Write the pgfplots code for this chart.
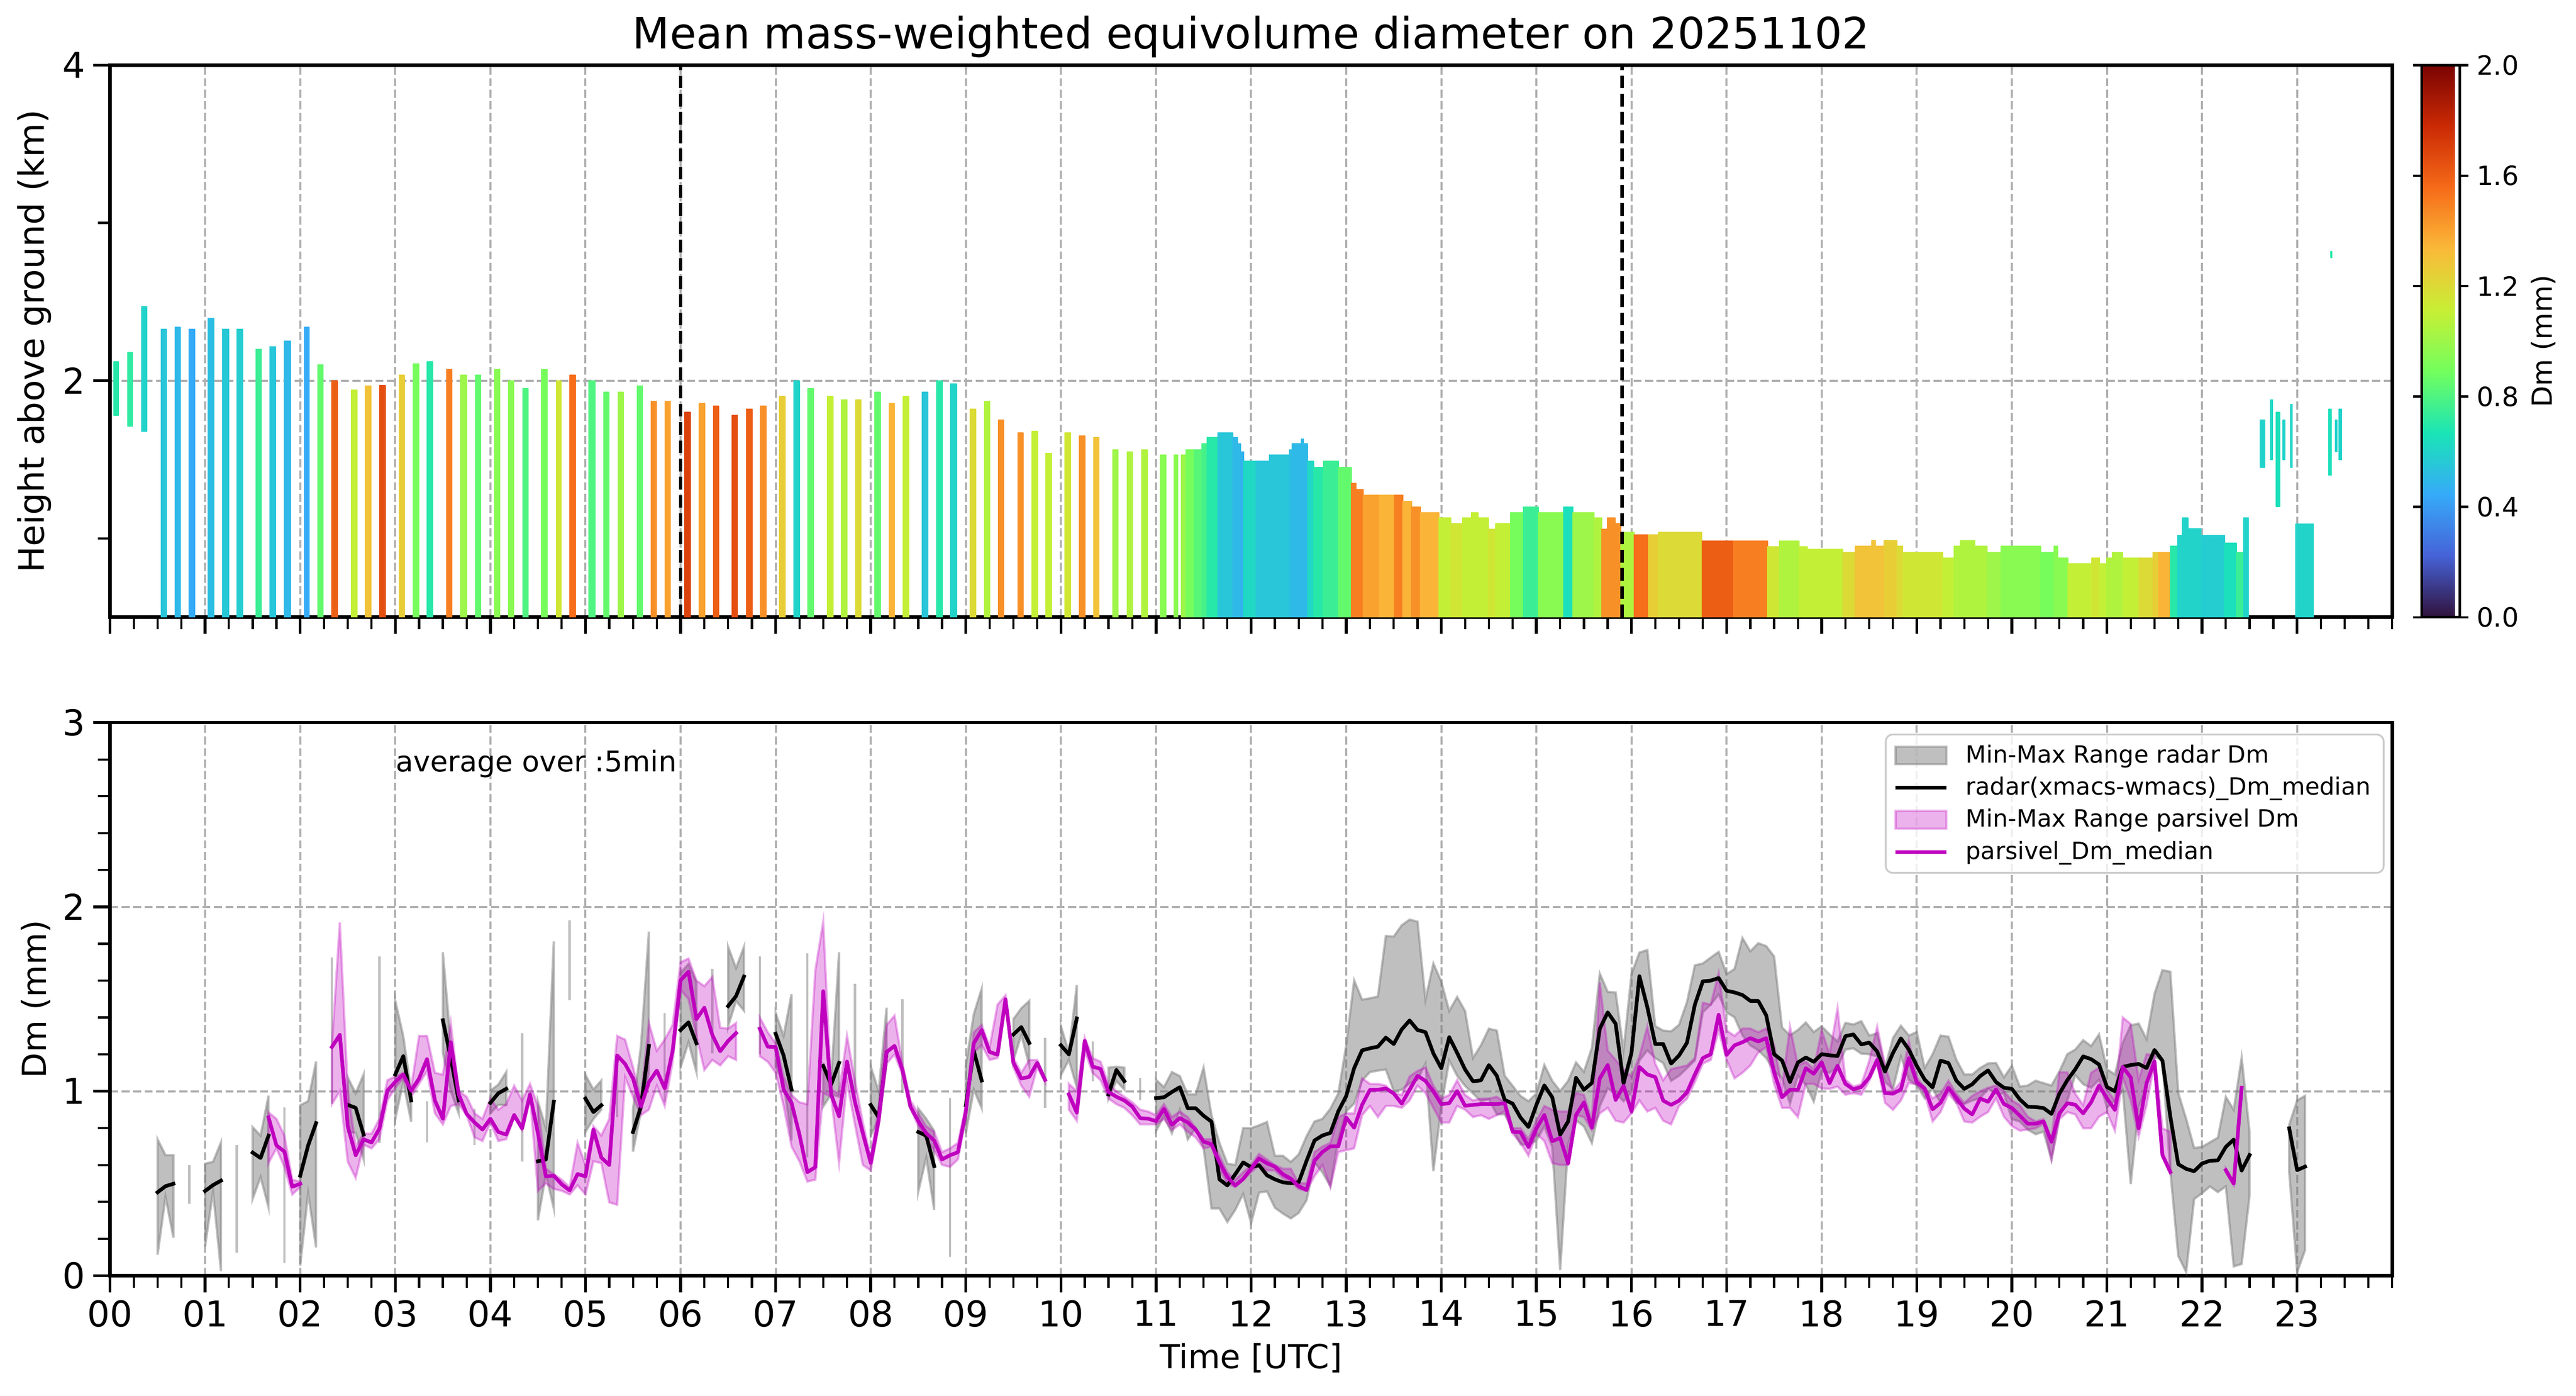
\documentclass[border=0pt]{standalone}
\usepackage{fontspec}
\setmainfont{DejaVu Sans}
\usepackage{pgfplots}
\usepackage{pgfplotstable}
\pgfplotsset{compat=1.18}
\usepgfplotslibrary{patchplots}

\definecolor{mplgray}{HTML}{808080}
\definecolor{mplm}{rgb}{0.75,0,0.75}
\definecolor{gridgray}{HTML}{B0B0B0}
\definecolor{legedge}{HTML}{CCCCCC}

\pgfplotsset{
  colormap={turbo}{rgb255=(48,18,59) rgb255=(70,98,215) rgb255=(54,170,249) rgb255=(26,228,182) rgb255=(114,254,94) rgb255=(199,239,52) rgb255=(250,186,57) rgb255=(246,107,25) rgb255=(203,42,4) rgb255=(122,4,3)},
  mpl/.style={
    scale only axis, width=988.7pt,
    xmin=0, xmax=24,
    xtick={0,1,...,23},
    minor xtick={0,0.25,...,24},
    tick align=outside, tick pos=left,
    major tick length=7.2pt, minor tick length=5.2pt,
    major tick style={line width=1.2pt, black},
    minor tick style={line width=0.95pt, black},
    axis line style={line width=1.5pt},
    grid=major,
    major grid style={gridgray, line width=0.9pt, dash pattern=on 3.5pt off 1.5pt},
    tick label style={font=\fontsize{15.4pt}{18pt}\selectfont},
    /pgf/number format/assume math mode=true,
    unbounded coords=jump,
  }
}

% ---------- top panel: radar curtain (column start, column end, base, top, Dm) ----------
\pgfplotstableread{
xs xe base top c
0.039 0.089 1.78 2.12 0.70
0.185 0.235 1.71 2.18 0.72
0.331 0.386 1.68 2.47 0.60
0.540 0.595 0.5 2.325 0.55
0.687 0.741 0.5 2.34 0.50
0.829 0.891 0.5 2.325 0.45
1.029 1.092 0.5 2.395 0.52
1.184 1.247 0.5 2.325 0.56
1.334 1.393 0.5 2.325 0.58
1.535 1.593 0.5 2.20 0.75
1.681 1.744 0.5 2.216 0.55
1.832 1.898 0.5 2.25 0.50
2.045 2.095 0.5 2.34 0.45
2.183 2.241 0.5 2.10 0.85
2.333 2.392 0.5 2.00 1.60
2.538 2.596 0.5 1.94 1.10
2.684 2.747 0.5 1.965 1.30
2.834 2.897 0.5 1.97 1.65
3.039 3.098 0.5 2.034 1.25
3.186 3.248 0.5 2.107 0.90
3.336 3.394 0.5 2.12 0.70
3.537 3.595 0.5 2.072 1.50
3.687 3.750 0.5 2.034 1.00
3.842 3.896 0.5 2.034 0.85
4.042 4.101 0.5 2.072 0.95
4.188 4.247 0.5 2.00 0.95
4.339 4.398 0.5 1.95 0.80
4.539 4.598 0.5 2.072 0.90
4.694 4.744 0.5 2.00 1.15
4.836 4.894 0.5 2.034 1.55
5.037 5.099 0.5 2.00 0.80
5.191 5.250 0.5 1.927 0.85
5.342 5.400 0.5 1.927 1.00
5.542 5.601 0.5 1.965 0.85
5.689 5.747 0.5 1.87 1.45
5.835 5.894 0.5 1.87 1.40
6.044 6.102 0.5 1.80 1.70
6.194 6.257 0.5 1.854 1.40
6.344 6.403 0.5 1.84 1.60
6.541 6.599 0.5 1.78 1.65
6.691 6.754 0.5 1.82 1.60
6.838 6.900 0.5 1.84 1.45
7.042 7.101 0.5 1.90 1.25
7.189 7.251 0.5 2.00 0.60
7.339 7.398 0.5 1.95 0.85
7.544 7.602 0.5 1.90 1.10
7.690 7.749 0.5 1.88 1.05
7.840 7.899 0.5 1.88 1.20
8.041 8.100 0.5 1.927 0.85
8.191 8.250 0.5 1.854 1.35
8.342 8.400 0.5 1.90 1.10
8.542 8.601 0.5 1.927 0.55
8.693 8.751 0.5 2.00 0.70
8.839 8.902 0.5 1.98 0.60
9.044 9.103 0.5 1.82 1.20
9.195 9.253 0.5 1.87 1.05
9.341 9.399 0.5 1.75 1.45
9.546 9.604 0.5 1.67 1.45
9.696 9.755 0.5 1.68 1.10
9.842 9.901 0.5 1.54 1.10
10.043 10.101 0.5 1.67 1.15
10.193 10.252 0.5 1.65 1.45
10.344 10.402 0.5 1.64 1.30
10.544 10.603 0.5 1.56 1.00
10.695 10.753 0.5 1.55 1.05
10.849 10.907 0.5 1.56 1.05
11.046 11.104 0.5 1.53 0.95
11.192 11.230 0.5 1.53 0.95
11.263 11.317 0.5 1.53 1.00
11.317 11.400 0.5 1.56 0.90
11.400 11.484 0.5 1.56 0.82
11.484 11.534 0.5 1.60 0.78
11.534 11.652 0.5 1.64 0.70
11.652 11.806 0.5 1.67 0.55
11.806 11.856 0.5 1.64 0.50
11.856 11.890 0.5 1.60 0.50
11.890 11.923 0.5 1.55 0.48
11.923 12.050 0.5 1.49 0.62
12.050 12.191 0.5 1.49 0.55
12.191 12.403 0.5 1.53 0.55
12.403 12.428 0.5 1.56 0.52
12.428 12.528 0.5 1.60 0.50
12.528 12.553 0.5 1.63 0.50
12.553 12.595 0.5 1.60 0.50
12.595 12.658 0.5 1.49 0.62
12.658 12.762 0.5 1.45 0.70
12.762 12.917 0.5 1.49 0.75
12.917 13.055 0.5 1.45 0.85
13.055 13.105 0.5 1.35 1.50
13.105 13.180 0.5 1.31 1.50
13.180 13.350 0.5 1.275 1.40
13.350 13.510 0.5 1.275 1.35
13.510 13.598 0.5 1.275 1.50
13.598 13.690 0.5 1.235 1.35
13.690 13.782 0.5 1.20 1.45
13.782 13.974 0.5 1.164 1.35
13.974 14.100 0.5 1.13 1.10
14.100 14.225 0.5 1.094 1.15
14.225 14.317 0.5 1.13 1.10
14.317 14.388 0.5 1.164 1.10
14.388 14.497 0.5 1.13 1.10
14.497 14.572 0.5 1.057 1.15
14.572 14.726 0.5 1.094 1.10
14.726 14.864 0.5 1.164 0.90
14.864 15.019 0.5 1.20 0.75
15.019 15.286 0.5 1.164 0.95
15.286 15.382 0.5 1.20 0.65
15.382 15.604 0.5 1.164 1.00
15.604 15.688 0.5 1.13 1.05
15.688 15.746 0.5 1.057 1.45
15.746 15.830 0.5 1.13 1.45
15.830 15.888 0.5 1.094 1.45
15.888 16.030 0.5 1.04 1.05
16.030 16.180 0.5 1.023 1.55
16.180 16.281 0.5 1.023 1.25
16.281 16.741 0.5 1.04 1.20
16.741 17.075 0.5 0.983 1.60
17.075 17.430 0.5 0.983 1.50
17.430 17.555 0.5 0.948 1.15
17.555 17.764 0.5 0.983 1.05
17.764 17.848 0.5 0.948 1.10
17.848 18.224 0.5 0.93 1.10
18.224 18.350 0.5 0.912 1.20
18.350 18.527 0.5 0.95 1.30
18.527 18.567 0.5 0.985 1.30
18.567 18.656 0.5 0.95 1.30
18.656 18.790 0.5 0.985 1.25
18.790 18.854 0.5 0.95 1.20
18.854 19.276 0.5 0.912 1.15
19.276 19.395 0.5 0.876 1.10
19.395 19.460 0.5 0.95 1.05
19.460 19.609 0.5 0.985 1.05
19.609 19.738 0.5 0.95 1.05
19.738 19.887 0.5 0.912 1.00
19.887 20.304 0.5 0.95 0.95
20.304 20.443 0.5 0.912 0.90
20.443 20.482 0.5 0.95 0.95
20.482 20.592 0.5 0.876 0.95
20.592 20.840 0.5 0.84 1.10
20.840 20.924 0.5 0.876 1.15
20.924 20.998 0.5 0.84 1.10
20.998 21.058 0.5 0.876 1.05
21.058 21.167 0.5 0.912 1.05
21.167 21.336 0.5 0.876 1.10
21.336 21.485 0.5 0.876 1.20
21.485 21.544 0.5 0.912 1.25
21.544 21.668 0.5 0.912 1.35
21.668 21.743 0.5 0.95 0.70
21.743 21.792 0.5 1.02 0.60
21.792 21.852 0.5 1.13 0.60
21.852 21.991 0.5 1.06 0.60
21.991 22.239 0.5 1.02 0.58
22.239 22.363 0.5 0.97 0.65
22.363 22.438 0.5 0.912 0.75
22.440 22.490 0.5 1.13 0.60
22.984 23.172 0.5 1.09 0.60
22.610 22.660 1.45 1.75 0.60
22.720 22.740 1.50 1.88 0.62
22.780 22.820 1.20 1.80 0.65
22.850 22.870 1.50 1.75 0.60
22.930 22.950 1.45 1.85 0.60
23.330 23.360 1.40 1.82 0.65
23.400 23.420 1.55 1.75 0.60
23.440 23.470 1.50 1.82 0.60
23.355 23.365 2.78 2.82 0.70
}\topdata

% build the rectangle patches (4 vertices each) from the table rows
\pgfplotstablegetrowsof{\topdata}
\pgfmathtruncatemacro{\toplast}{\pgfplotsretval-1}
\def\curtain{}
\pgfplotsforeachungrouped \rr in {0,...,\toplast}{%
  \pgfplotstablegetelem{\rr}{xs}\of{\topdata}\let\vxs\pgfplotsretval
  \pgfplotstablegetelem{\rr}{xe}\of{\topdata}\let\vxe\pgfplotsretval
  \pgfplotstablegetelem{\rr}{base}\of{\topdata}\let\vbase\pgfplotsretval
  \pgfplotstablegetelem{\rr}{top}\of{\topdata}\let\vtp\pgfplotsretval
  \pgfplotstablegetelem{\rr}{c}\of{\topdata}\let\vcol\pgfplotsretval
  \edef\curtain{\curtain (\vxs,\vbase) [\vcol] (\vxe,\vbase) [\vcol] (\vxe,\vtp) [\vcol] (\vxs,\vtp) [\vcol]}%
}

% ---------- bottom panel: k = 5-min index (t = k/12 h) ----------
\pgfplotstableread{
k rhi rlo rmed phi plo pmed
6 0.739 0.113 0.452 nan nan nan
7 0.653 0.427 0.485 nan nan nan
8 0.653 0.206 0.498 nan nan nan
9 nan nan nan nan nan nan
10 nan nan nan nan nan nan
11 nan nan nan nan nan nan
12 0.607 0.159 0.459 nan nan nan
13 0.617 0.456 0.491 nan nan nan
14 0.722 0.024 0.515 nan nan nan
15 nan nan nan nan nan nan
16 nan nan nan nan nan nan
17 nan nan nan nan nan nan
18 0.805 0.416 0.667 nan nan nan
19 0.759 0.535 0.638 nan nan nan
20 0.976 0.370 0.759 0.885 0.61 0.858
21 nan nan nan 0.85 0.69 0.706
22 nan nan nan 0.76 0.59 0.673
23 nan nan nan 0.52 0.44 0.482
24 0.924 0.054 0.542 0.51 0.48 0.498
25 0.946 0.447 0.706 nan nan nan
26 1.161 0.153 0.827 nan nan nan
27 nan nan nan nan nan nan
28 nan nan nan 1.25 0.93 1.24
29 nan nan nan 1.916 1.0 1.306
30 1.075 0.779 0.926 1.01 0.617 0.81
31 0.989 0.775 0.91 0.70 0.53 0.653
32 1.091 0.63 0.765 0.77 0.71 0.739
33 nan nan nan 0.77 0.69 0.722
34 nan nan nan 0.85 0.74 0.798
35 nan nan nan 1.06 0.95 1.003
36 1.49 0.85 1.091 1.08 1.02 1.051
37 1.30 1.05 1.19 1.10 1.07 1.091
38 1.0 0.835 0.95 1.02 0.97 1.003
39 nan nan nan 1.30 1.04 1.069
40 nan nan nan 1.30 1.11 1.174
41 nan nan nan 1.10 0.88 0.95
42 1.754 1.21 1.385 1.09 0.82 0.851
43 1.26 1.0 1.18 1.37 0.92 1.266
44 0.96 0.88 0.95 1.0 0.93 0.983
45 nan nan nan 0.97 0.87 0.877
46 nan nan nan 0.88 0.75 0.831
47 nan nan nan 0.85 0.73 0.792
48 1.003 0.88 0.937 0.96 0.83 0.851
49 1.036 0.926 0.989 0.90 0.73 0.779
50 1.104 0.926 1.013 0.93 0.74 0.765
51 nan nan nan 1.03 0.86 0.871
52 nan nan nan 0.95 0.79 0.798
53 nan nan nan 1.04 0.97 0.983
54 0.943 0.30 0.62 0.92 0.46 0.772
55 0.80 0.55 0.63 0.58 0.50 0.538
56 1.813 0.364 0.943 0.55 0.47 0.542
57 nan nan nan 0.52 0.46 0.495
58 nan nan nan 0.48 0.44 0.462
59 nan nan nan 0.72 0.49 0.551
60 1.088 0.78 0.96 0.60 0.44 0.538
61 1.009 0.85 0.887 0.81 0.62 0.792
62 1.058 0.90 0.924 0.76 0.61 0.64
63 nan nan nan 0.85 0.397 0.60
64 nan nan nan 1.30 0.384 1.194
65 nan nan nan 1.28 1.075 1.148
66 0.904 0.673 0.779 1.13 0.97 1.069
67 1.246 0.89 0.917 0.96 0.87 0.917
68 1.866 1.10 1.246 1.37 0.90 1.049
69 nan nan nan 1.22 1.03 1.112
70 nan nan nan 1.28 0.92 1.016
71 nan nan nan 1.36 1.16 1.22
72 1.642 1.13 1.332 1.70 1.55 1.602
73 1.69 1.266 1.374 1.72 1.50 1.648
74 1.592 1.104 1.26 1.60 1.30 1.391
75 nan nan nan 1.57 1.115 1.453
76 nan nan nan 1.62 1.17 1.306
77 nan nan nan 1.345 1.14 1.217
78 1.783 1.352 1.462 1.34 1.19 1.273
79 1.668 1.49 1.516 1.37 1.17 1.315
80 1.783 1.437 1.622 nan nan nan
81 nan nan nan nan nan nan
82 nan nan nan 1.40 1.19 1.339
83 nan nan nan 1.32 1.16 1.242
84 1.424 1.128 1.312 1.26 1.10 1.24
85 1.30 1.05 1.194 1.08 0.92 1.009
86 1.526 0.733 1.009 0.98 0.70 0.937
87 nan nan nan 0.94 0.62 0.765
88 nan nan nan 0.93 0.51 0.561
89 nan nan nan 1.655 0.52 0.588
90 1.141 0.917 1.138 1.92 0.99 1.543
91 1.06 0.983 1.036 1.01 0.97 0.983
92 1.754 0.97 1.154 0.985 0.61 0.864
93 nan nan nan 1.30 1.05 1.161
94 nan nan nan 1.06 0.82 0.943
95 nan nan nan 0.83 0.60 0.772
96 1.134 0.759 0.926 0.64 0.57 0.611
97 1.0 0.851 0.858 0.92 0.81 0.845
98 1.453 1.15 1.21 1.36 1.15 1.213
99 nan nan nan 1.41 1.20 1.246
100 nan nan nan 1.15 1.09 1.115
101 nan nan nan 0.95 0.91 0.917
102 0.906 0.456 0.779 0.88 0.81 0.838
103 0.851 0.64 0.759 0.81 0.74 0.772
104 0.785 0.357 0.594 0.78 0.68 0.733
105 nan nan nan 0.67 0.60 0.63
106 nan nan nan 0.69 0.59 0.653
107 nan nan nan 0.72 0.63 0.669
108 1.141 0.772 0.924 0.92 0.86 0.891
109 1.418 1.009 1.22 1.32 1.21 1.26
110 1.556 0.908 1.058 1.36 1.25 1.332
111 nan nan nan 1.24 1.17 1.213
112 nan nan nan 1.47 1.18 1.198
113 nan nan nan 1.52 1.47 1.499
114 1.391 1.167 1.308 1.18 1.13 1.154
115 1.45 1.306 1.348 1.10 1.03 1.069
116 1.49 1.141 1.262 1.17 0.97 1.078
117 nan nan nan 1.17 1.13 1.154
118 nan nan nan 1.07 1.05 1.062
119 nan nan nan nan nan nan
120 1.352 1.088 1.249 nan nan nan
121 1.21 1.17 1.2 1.04 0.90 0.983
122 1.576 1.022 1.395 1.00 0.84 0.884
123 nan nan nan 1.29 1.22 1.273
124 nan nan nan 1.18 1.10 1.134
125 nan nan nan 1.16 1.06 1.121
126 1.128 0.96 0.983 1.04 0.96 0.996
127 1.133 1.055 1.115 1.00 0.93 0.97
128 1.128 1.009 1.055 0.97 0.91 0.95
129 nan nan nan 0.94 0.87 0.917
130 nan nan nan 0.90 0.82 0.854
131 nan nan nan 0.89 0.82 0.851
132 1.062 0.785 0.963 0.87 0.82 0.838
133 1.022 0.864 0.967 0.93 0.85 0.904
134 1.104 0.772 0.996 0.86 0.79 0.818
135 1.082 0.90 1.022 0.89 0.82 0.854
136 0.983 0.739 0.908 0.86 0.78 0.831
137 0.983 0.80 0.908 0.80 0.75 0.792
138 1.128 0.693 0.867 0.74 0.69 0.726
139 0.87 0.364 0.835 0.74 0.70 0.713
140 0.72 0.364 0.522 0.65 0.58 0.614
141 0.607 0.291 0.489 0.56 0.50 0.535
142 0.60 0.357 0.55 0.52 0.48 0.489
143 0.80 0.443 0.614 0.56 0.52 0.524
144 0.80 0.285 0.588 0.60 0.56 0.58
145 0.815 0.45 0.599 0.66 0.60 0.636
146 0.833 0.457 0.544 0.63 0.57 0.609
147 0.65 0.368 0.522 0.60 0.57 0.591
148 0.65 0.337 0.506 0.58 0.53 0.55
149 0.616 0.31 0.501 0.58 0.51 0.526
150 0.657 0.34 0.506 0.50 0.47 0.485
151 0.756 0.409 0.623 0.50 0.46 0.464
152 0.836 0.616 0.733 0.67 0.54 0.623
153 0.85 0.56 0.76 0.70 0.60 0.671
154 0.905 0.485 0.774 0.72 0.48 0.701
155 0.988 0.74 0.891 0.86 0.67 0.701
156 1.249 0.891 0.974 0.88 0.68 0.857
157 1.601 0.933 1.125 0.88 0.69 0.802
158 1.497 1.058 1.222 1.07 0.87 0.926
159 1.504 1.104 1.233 1.04 0.92 1.008
160 1.514 1.112 1.242 1.04 0.86 1.008
161 1.842 1.118 1.291 1.03 0.92 1.015
162 1.839 1.001 1.256 0.99 0.92 0.988
163 1.9 1.008 1.335 0.98 0.91 0.933
164 1.931 1.043 1.384 1.08 0.95 1.008
165 1.92 1.063 1.332 1.11 1.03 1.084
166 1.497 1.15 1.321 1.13 0.99 1.056
167 1.693 0.567 1.205 1.03 0.91 0.999
168 1.594 0.919 1.125 0.96 0.83 0.93
169 1.435 1.167 1.293 0.98 0.83 0.935
170 1.511 1.084 1.208 1.06 0.92 1.001
171 1.435 1.029 1.118 0.98 0.90 0.921
172 1.18 0.988 1.054 0.95 0.86 0.926
173 1.249 0.946 1.059 0.96 0.87 0.93
174 1.339 0.957 1.142 0.96 0.85 0.93
175 1.329 0.875 1.084 0.97 0.87 0.93
176 1.084 0.875 0.953 0.94 0.89 0.935
177 1.029 0.795 0.933 0.80 0.77 0.781
178 0.974 0.712 0.857 0.80 0.72 0.778
179 0.946 0.709 0.806 0.74 0.65 0.698
180 0.988 0.733 0.926 0.84 0.77 0.798
181 1.142 0.809 1.032 0.92 0.73 0.871
182 1.056 0.698 0.967 0.90 0.61 0.729
183 1.001 0.03 0.764 0.89 0.60 0.747
184 1.056 0.712 0.836 0.89 0.60 0.609
185 1.156 0.843 1.073 0.99 0.87 0.871
186 1.105 0.809 1.008 0.98 0.86 0.939
187 1.236 0.719 1.045 0.84 0.79 0.802
188 1.638 0.919 1.339 1.59 0.88 1.07
189 1.539 1.015 1.428 1.22 0.91 1.142
190 1.536 0.988 1.366 1.17 0.84 0.953
191 1.222 0.946 1.043 1.12 0.83 1.029
192 1.635 0.994 1.208 1.08 0.88 0.891
193 1.752 1.167 1.624 1.19 0.95 1.132
194 1.766 1.222 1.456 1.35 0.89 1.091
195 1.353 1.18 1.256 1.15 0.91 1.077
196 1.329 1.153 1.256 1.06 0.84 0.949
197 1.325 1.056 1.15 1.12 0.82 0.926
198 1.36 1.084 1.194 1.13 0.92 0.949
199 1.483 1.125 1.263 1.14 0.96 0.994
200 1.683 1.167 1.47 1.18 1.05 1.091
201 1.693 1.428 1.596 1.48 1.15 1.18
202 1.725 1.47 1.60 1.47 1.17 1.201
203 1.756 1.525 1.614 1.64 1.33 1.415
204 1.635 1.428 1.545 1.33 1.17 1.197
205 1.663 1.401 1.536 1.30 1.07 1.249
206 1.831 1.304 1.522 1.34 1.10 1.266
207 1.759 1.249 1.49 1.34 1.14 1.288
208 1.803 1.222 1.49 1.32 1.21 1.27
209 1.787 1.18 1.412 1.34 1.24 1.288
210 1.731 1.112 1.201 1.25 1.04 1.105
211 1.346 1.07 1.167 1.02 0.91 0.967
212 1.304 0.933 1.05 1.35 0.91 1.008
213 1.332 1.084 1.156 1.14 0.86 1.008
214 1.373 1.036 1.183 1.16 1.04 1.125
215 1.321 0.944 1.16 1.12 1.04 1.095
216 1.352 1.11 1.201 1.33 1.015 1.157
217 1.308 1.10 1.195 1.20 1.013 1.044
218 1.27 1.132 1.191 1.45 1.025 1.138
219 1.371 1.226 1.299 1.063 0.981 1.04
220 1.362 1.233 1.308 1.025 0.99 1.01
221 1.38 1.204 1.254 1.038 0.981 1.023
222 1.302 1.201 1.264 1.164 1.057 1.075
223 1.314 1.189 1.216 1.35 1.15 1.17
224 1.126 1.05 1.107 1.138 0.937 0.99
225 1.289 1.013 1.208 1.0 0.899 0.987
226 1.355 1.189 1.287 1.05 0.95 1.01
227 1.302 1.063 1.226 1.27 1.044 1.179
228 1.321 1.031 1.138 1.075 1.038 1.048
229 1.126 0.962 1.063 1.019 0.987 1.015
230 1.201 1.013 1.021 0.962 0.836 0.902
231 1.302 0.937 1.166 0.987 0.887 0.937
232 1.296 1.025 1.153 1.057 0.987 1.019
233 1.17 0.937 1.057 0.987 0.937 0.962
234 1.091 0.931 1.013 0.937 0.836 0.906
235 1.091 0.95 1.038 0.975 0.83 0.874
236 1.126 0.962 1.082 1.0 0.862 0.96
237 1.151 1.013 1.113 1.019 0.887 0.943
238 1.153 0.987 1.05 1.031 0.962 1.01
239 1.075 0.987 1.019 1.0 0.862 0.931
240 1.138 0.849 1.013 0.95 0.811 0.909
241 1.025 0.836 0.956 0.925 0.786 0.868
242 1.031 0.792 0.916 0.862 0.792 0.824
243 1.057 0.767 0.914 0.836 0.799 0.824
244 1.044 0.78 0.909 0.849 0.824 0.836
245 1.031 0.629 0.877 0.74 0.63 0.726
246 1.107 0.862 0.987 1.103 0.849 0.88
247 1.201 0.95 1.06 1.103 0.887 0.935
248 1.226 1.088 1.119 0.987 0.874 0.927
249 1.277 1.038 1.189 0.925 0.799 0.88
250 1.245 1.019 1.174 1.1 0.799 0.94
251 1.308 1.063 1.145 1.128 0.862 1.031
252 1.119 0.912 1.023 1.006 0.887 0.962
253 1.091 0.95 1.0 0.95 0.786 0.899
254 1.264 1.006 1.132 1.4 1.075 1.132
255 1.358 0.497 1.142 1.365 0.95 1.075
256 1.367 0.912 1.148 1.063 0.755 0.799
257 1.283 1.025 1.126 1.201 0.925 1.044
258 1.528 1.189 1.224 1.195 1.157 1.161
259 1.657 1.164 1.166 0.799 0.648 0.654
260 1.648 0.566 0.862 0.78 0.56 0.562
261 0.99 0.107 0.604 nan nan nan
262 0.85 0.019 0.579 nan nan nan
263 0.692 0.415 0.566 nan nan nan
264 0.698 0.447 0.608 nan nan nan
265 0.723 0.484 0.623 nan nan nan
266 0.748 0.453 0.625 nan nan nan
267 0.969 0.484 0.698 0.58 0.56 0.572
268 0.899 0.05 0.738 0.51 0.49 0.499
269 1.182 0.063 0.57 1.03 1.0 1.019
270 0.78 0.434 0.654 nan nan nan
271 nan nan nan nan nan nan
272 nan nan nan nan nan nan
273 nan nan nan nan nan nan
274 nan nan nan nan nan nan
275 0.818 0.56 0.799 nan nan nan
276 0.95 0.019 0.572 nan nan nan
277 0.975 0.138 0.591 nan nan nan
}\bdata

% isolated radar samples (single time step): vertical min-max lines
\pgfplotstableread{
k v
10 0.39
10 0.60
11 nan
16 0.124
16 0.709
17 nan
22 0.067
22 0.913
23 nan
28 0.933
28 1.725
29 nan
34 0.72
34 1.73
35 nan
40 0.722
40 0.946
41 nan
46 0.709
46 0.904
47 nan
52 0.62
52 1.315
53 nan
58 1.494
58 1.928
59 nan
64 0.86
64 1.19
65 nan
70 0.943
70 1.424
71 nan
76 1.207
76 1.664
77 nan
82 1.2
82 1.731
83 nan
88 0.64
88 1.747
89 nan
94 0.983
94 1.582
95 nan
100 0.99
100 1.5
101 nan
106 0.103
106 0.963
107 nan
118 0.91
118 1.289
119 nan
124 1.055
124 1.269
125 nan
130 0.95
130 1.071
}\isodata

% min-max band outlines built from \bdata rows (row = k-6): upper edge forward, lower edge back
\newcommand{\mkband}[5]{%
  \def\tmpfw{}\def\tmpbw{}%
  \pgfplotsforeachungrouped \kk in {#2,...,#3}{%
    \pgfmathtruncatemacro\rowi{\kk-6}%
    \pgfplotstablegetelem{\rowi}{#4}\of{\bdata}\let\vh\pgfplotsretval
    \pgfplotstablegetelem{\rowi}{#5}\of{\bdata}\let\vl\pgfplotsretval
    \pgfmathsetmacro\vtim{\kk/12}%
    \edef\tmpfw{\tmpfw (\vtim,\vh)}%
    \edef\tmpbw{(\vtim,\vl) \tmpbw}%
  }%
  \expandafter\edef\csname #1\endcsname{\tmpfw\space\tmpbw}%
}
\mkband{rbA}{6}{8}{rhi}{rlo}
\mkband{rbB}{12}{14}{rhi}{rlo}
\mkband{rbC}{18}{20}{rhi}{rlo}
\mkband{rbD}{24}{26}{rhi}{rlo}
\mkband{rbE}{30}{32}{rhi}{rlo}
\mkband{rbF}{36}{38}{rhi}{rlo}
\mkband{rbG}{42}{44}{rhi}{rlo}
\mkband{rbH}{48}{50}{rhi}{rlo}
\mkband{rbI}{54}{56}{rhi}{rlo}
\mkband{rbJ}{60}{62}{rhi}{rlo}
\mkband{rbK}{66}{68}{rhi}{rlo}
\mkband{rbL}{72}{74}{rhi}{rlo}
\mkband{rbM}{78}{80}{rhi}{rlo}
\mkband{rbN}{84}{86}{rhi}{rlo}
\mkband{rbO}{90}{92}{rhi}{rlo}
\mkband{rbP}{96}{98}{rhi}{rlo}
\mkband{rbQ}{102}{104}{rhi}{rlo}
\mkband{rbR}{108}{110}{rhi}{rlo}
\mkband{rbS}{114}{116}{rhi}{rlo}
\mkband{rbT}{120}{122}{rhi}{rlo}
\mkband{rbU}{126}{128}{rhi}{rlo}
\mkband{rbV}{132}{270}{rhi}{rlo}
\mkband{rbW}{275}{277}{rhi}{rlo}
\mkband{pbA}{20}{24}{phi}{plo}
\mkband{pbB}{28}{79}{phi}{plo}
\mkband{pbC}{82}{118}{phi}{plo}
\mkband{pbD}{121}{260}{phi}{plo}
\mkband{pbE}{267}{269}{phi}{plo}

\newcommand{\drawband}[2]{%
  \edef\tempband{\noexpand\addplot[forget plot, #2] coordinates {\csname #1\endcsname} -- cycle;}%
  \tempband
}

\begin{document}
\begin{tikzpicture}
\path[use as bounding box] (0pt,0pt) rectangle (1116pt,604.45pt);

% ================= TOP =================
\begin{axis}[mpl,
  at={(47.67pt,337.1pt)}, anchor=south west, height=239.1pt,
  ymin=0.5, ymax=4, ytick={2,4}, minor ytick={1,3},
  xticklabels={,,,,,,,,,,,,,,,,,,,,,,,},
  ylabel={Height above ground (km)},
  ylabel style={font=\fontsize{15.2pt}{18pt}\selectfont},
  ylabel shift=-2pt,
  title={Mean mass-weighted equivolume diameter on 20251102},
  title style={font=\fontsize{18.7pt}{22pt}\selectfont, yshift=-6.2pt},
  colormap name=turbo, point meta min=0, point meta max=2,
]
\edef\temp{\noexpand\addplot[forget plot, patch, patch type=rectangle, shader=flat, point meta=explicit] coordinates {\curtain};}
\temp
\addplot[forget plot, black, line width=1.5pt, dash pattern=on 5.5pt off 2.4pt]
  coordinates {(6,0.5) (6,4)};
\addplot[forget plot, black, line width=1.5pt, dash pattern=on 5.5pt off 2.4pt]
  coordinates {(15.9,0.5) (15.9,4)};
\end{axis}

% ================= COLORBAR (stand-alone) =================
\begin{axis}[
  at={(1032.45pt,337.1pt)}, anchor=south west,
  scale only axis, width=16.4pt, height=239.1pt,
  hide axis, xmin=0, xmax=1, ymin=0, ymax=2,
  colormap name=turbo, point meta min=0, point meta max=2,
  colorbar,
  colorbar style={
    width=16.4pt, height=239.1pt,
    ytick={0,0.4,0.8,1.2,1.6,2.0},
    yticklabel pos=right,
    tick align=outside,
    major tick length=3.8pt,
    major tick style={line width=1pt, black},
    axis line style={line width=1.2pt},
    yticklabel style={font=\fontsize{11.5pt}{13pt}\selectfont,
      /pgf/number format/.cd, fixed, fixed zerofill, precision=1, assume math mode=true},
    ylabel={Dm (mm)},
    ylabel style={font=\fontsize{12pt}{14pt}\selectfont},
    ylabel shift=-1.5pt,
  },
]
\addplot[draw=none, forget plot] coordinates {(0.5,1)};
\end{axis}

% ================= BOTTOM =================
\begin{axis}[mpl,
  at={(47.67pt,51.95pt)}, anchor=south west, height=239.55pt,
  ymin=0, ymax=3, ytick={0,1,2,3}, minor y tick num=4,
  xticklabels={00,01,02,03,04,05,06,07,08,09,10,11,12,13,14,15,16,17,18,19,20,21,22,23},
  xlabel={Time [UTC]},
  xlabel style={font=\fontsize{14.3pt}{17pt}\selectfont},
  ylabel={Dm (mm)},
  ylabel style={font=\fontsize{14.3pt}{17pt}\selectfont},
  ylabel shift=-1.5pt,
  legend cell align=left,
  legend style={
    at={(1,1)}, anchor=north east, xshift=-3.3pt, yshift=-4.8pt,
    draw=legedge, line width=0.8pt, rounded corners=3pt,
    fill=white, fill opacity=0.8, draw opacity=1, text opacity=1,
    font=\fontsize{10.3pt}{12.4pt}\selectfont,
    inner xsep=3.5pt, inner ysep=2.4pt,
    row sep=0.6pt, column sep=5.6pt,
    cells={anchor=west},
  },
]
\drawband{rbA}{fill=mplgray, fill opacity=0.5, draw=mplgray, draw opacity=0.5, line width=1pt}
\drawband{rbB}{fill=mplgray, fill opacity=0.5, draw=mplgray, draw opacity=0.5, line width=1pt}
\drawband{rbC}{fill=mplgray, fill opacity=0.5, draw=mplgray, draw opacity=0.5, line width=1pt}
\drawband{rbD}{fill=mplgray, fill opacity=0.5, draw=mplgray, draw opacity=0.5, line width=1pt}
\drawband{rbE}{fill=mplgray, fill opacity=0.5, draw=mplgray, draw opacity=0.5, line width=1pt}
\drawband{rbF}{fill=mplgray, fill opacity=0.5, draw=mplgray, draw opacity=0.5, line width=1pt}
\drawband{rbG}{fill=mplgray, fill opacity=0.5, draw=mplgray, draw opacity=0.5, line width=1pt}
\drawband{rbH}{fill=mplgray, fill opacity=0.5, draw=mplgray, draw opacity=0.5, line width=1pt}
\drawband{rbI}{fill=mplgray, fill opacity=0.5, draw=mplgray, draw opacity=0.5, line width=1pt}
\drawband{rbJ}{fill=mplgray, fill opacity=0.5, draw=mplgray, draw opacity=0.5, line width=1pt}
\drawband{rbK}{fill=mplgray, fill opacity=0.5, draw=mplgray, draw opacity=0.5, line width=1pt}
\drawband{rbL}{fill=mplgray, fill opacity=0.5, draw=mplgray, draw opacity=0.5, line width=1pt}
\drawband{rbM}{fill=mplgray, fill opacity=0.5, draw=mplgray, draw opacity=0.5, line width=1pt}
\drawband{rbN}{fill=mplgray, fill opacity=0.5, draw=mplgray, draw opacity=0.5, line width=1pt}
\drawband{rbO}{fill=mplgray, fill opacity=0.5, draw=mplgray, draw opacity=0.5, line width=1pt}
\drawband{rbP}{fill=mplgray, fill opacity=0.5, draw=mplgray, draw opacity=0.5, line width=1pt}
\drawband{rbQ}{fill=mplgray, fill opacity=0.5, draw=mplgray, draw opacity=0.5, line width=1pt}
\drawband{rbR}{fill=mplgray, fill opacity=0.5, draw=mplgray, draw opacity=0.5, line width=1pt}
\drawband{rbS}{fill=mplgray, fill opacity=0.5, draw=mplgray, draw opacity=0.5, line width=1pt}
\drawband{rbT}{fill=mplgray, fill opacity=0.5, draw=mplgray, draw opacity=0.5, line width=1pt}
\drawband{rbU}{fill=mplgray, fill opacity=0.5, draw=mplgray, draw opacity=0.5, line width=1pt}
\drawband{rbV}{fill=mplgray, fill opacity=0.5, draw=mplgray, draw opacity=0.5, line width=1pt}
\drawband{rbW}{fill=mplgray, fill opacity=0.5, draw=mplgray, draw opacity=0.5, line width=1pt}
\addplot[forget plot, draw=mplgray, draw opacity=0.5, line width=1pt]
  table[x expr=\thisrow{k}/12, y=v]{\isodata};
\drawband{pbA}{fill=mplm, fill opacity=0.3, draw=mplm, draw opacity=0.3, line width=1pt}
\drawband{pbB}{fill=mplm, fill opacity=0.3, draw=mplm, draw opacity=0.3, line width=1pt}
\drawband{pbC}{fill=mplm, fill opacity=0.3, draw=mplm, draw opacity=0.3, line width=1pt}
\drawband{pbD}{fill=mplm, fill opacity=0.3, draw=mplm, draw opacity=0.3, line width=1pt}
\drawband{pbE}{fill=mplm, fill opacity=0.3, draw=mplm, draw opacity=0.3, line width=1pt}
\addplot[forget plot, black, line width=1.6pt, line join=round, line cap=rect]
  table[x expr=\thisrow{k}/12, y=rmed]{\bdata};
\addplot[forget plot, mplm, line width=1.6pt, line join=round, line cap=rect]
  table[x expr=\thisrow{k}/12, y=pmed]{\bdata};

\addlegendimage{legend image code/.code={\draw[sharp corners, fill=mplgray, fill opacity=0.5, draw=mplgray, draw opacity=0.5, line width=1pt] (0pt,-3.85pt) rectangle (22pt,3.85pt);}}
\addlegendentry{Min-Max Range radar Dm}
\addlegendimage{legend image code/.code={\draw[sharp corners, black, line width=1.6pt] (0pt,0pt) -- (22pt,0pt);}}
\addlegendentry{radar(xmacs-wmacs)\_Dm\_median}
\addlegendimage{legend image code/.code={\draw[sharp corners, fill=mplm, fill opacity=0.3, draw=mplm, draw opacity=0.3, line width=1pt] (0pt,-3.85pt) rectangle (22pt,3.85pt);}}
\addlegendentry{Min-Max Range parsivel Dm}
\addlegendimage{legend image code/.code={\draw[sharp corners, mplm, line width=1.6pt] (0pt,0pt) -- (22pt,0pt);}}
\addlegendentry{parsivel\_Dm\_median}

\node[anchor=base west, inner sep=0pt, font=\fontsize{12.4pt}{15pt}\selectfont] at (axis cs:3.0,2.733) {average over :5min};
\end{axis}
\end{tikzpicture}
\end{document}
